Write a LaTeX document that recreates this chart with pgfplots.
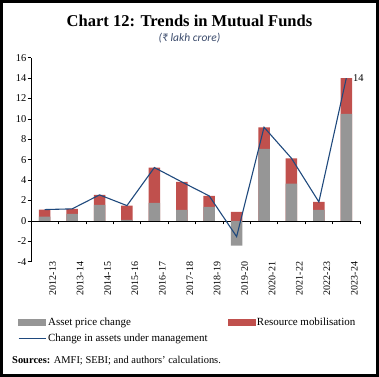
\documentclass[border=0pt]{standalone}
\usepackage{pgfplots}
\pgfplotsset{compat=1.18}
\usepackage{fontspec}
\setmainfont{Liberation Serif}
\newfontfamily\subfont{Carlito}
\definecolor{barGray}{HTML}{969696}
\definecolor{barRed}{HTML}{C0504D}
\definecolor{lineBlue}{HTML}{1F497D}
\definecolor{subBlue}{HTML}{3A4A6B}
\begin{document}
\begin{tikzpicture}[x=1bp,y=1bp]
\useasboundingbox (0,0) rectangle (379,377);
\draw[line width=2.6bp] (1.3,1.3) rectangle (377.7,375.7);
\node[font=\fontsize{16.6}{18}\selectfont\bfseries] at (189.5,356.5) {Chart 12: Trends in Mutual Funds};
\node[font=\subfont\itshape\fontsize{11.5}{13}\selectfont, text=subBlue] at (189.5,338.5) {(₹ lakh crore)};
\node[anchor=west, font=\fontsize{10.5}{12}\selectfont, inner sep=0pt] at (12,16) {\textbf{Sources:} AMFI; SEBI; and authors' calculations.};
% zero line with ticks between categories
\begin{axis}[
  at={(31bp,115.3bp)}, anchor=south west,
  scale only axis, width=329bp, height=204bp,
  xmin=-0.5, xmax=11.5, ymin=-4, ymax=16,
  axis x line=middle, axis y line=none,
  xtick={0.5,1.5,...,11.5}, xticklabels={},
  tick align=outside, major tick length=3.5bp,
  axis line style={black, line width=0.6pt, -},
  tick style={black, line width=0.6pt},
]
\end{axis}
\begin{axis}[
  at={(31bp,115.3bp)}, anchor=south west,
  scale only axis, width=329bp, height=204bp,
  xmin=-0.5, xmax=11.5, ymin=-4, ymax=16,
  clip=false,
  axis y line*=left, axis x line*=bottom,
  x axis line style={draw=none},
  y axis line style={black, line width=0.6pt, -},
  xtick={0,...,11},
  xticklabels={2012-13,2013-14,2014-15,2015-16,2016-17,2017-18,2018-19,2019-20,2020-21,2021-22,2022-23,2023-24},
  xticklabel style={rotate=90, anchor=east, font=\fontsize{10}{11}\selectfont, inner sep=0pt},
  x tick label style={yshift=-8bp},
  xtick style={draw=none},
  ytick={-4,-2,...,16},
  yticklabel style={font=\fontsize{10.5}{11}\selectfont, inner sep=1pt},
  /pgf/number format/assume math mode=true,
  ytick align=outside, ytick style={black, line width=0.6pt},
  major tick length=3.5bp,
  legend columns=2,
  legend cell align=left,
  legend style={at={(-0.04,-0.265)}, anchor=north west, draw=none, fill=none,
    font=\fontsize{11}{13}\selectfont, inner sep=0pt,
    /tikz/every even column/.append style={column sep=18bp},
    row sep=2.5bp},
]
% Resource mobilisation: drawn from 0 to top of stack (gray drawn over it)
\addplot[ybar, bar width=0.42, bar shift=0, fill=barRed, draw=none, forget plot]
  coordinates {(0,1.11) (1,1.18) (2,2.55) (3,1.50) (4,5.23) (5,3.82) (6,2.45) (7,0.88) (8,9.18) (9,6.14) (10,1.86) (11,13.99)};
% Asset price change
\addplot[ybar, bar width=0.42, bar shift=0, fill=barGray, draw=none, forget plot]
  coordinates {(0,0.42) (1,0.69) (2,1.57) (3,0.10) (4,1.76) (5,1.08) (6,1.37) (7,-2.42) (8,7.06) (9,3.66) (10,1.08) (11,10.49)};
% Change in assets under management
\addplot[lineBlue, line width=1.1pt, mark=none, forget plot]
  coordinates {(0,1.11) (1,1.18) (2,2.55) (3,1.50) (4,5.23) (5,3.82) (6,2.45) (7,-1.54) (8,9.18) (9,6.14) (10,1.86) (11,13.99)};
\addplot[draw=none, mark=none, forget plot, nodes near coords, point meta=explicit symbolic,
  nodes near coords style={anchor=west, font=\fontsize{10.5}{11}\selectfont, inner sep=1pt}]
  coordinates {(11.21,13.99) [14]};
\addlegendimage{legend image code/.code={\fill[barGray] (0bp,-3bp) rectangle (27bp,3bp);}}
\addlegendentry{Asset price change}
\addlegendimage{legend image code/.code={\fill[barRed] (0bp,-3bp) rectangle (27bp,3bp);}}
\addlegendentry{Resource mobilisation}
\addlegendimage{legend image code/.code={\draw[lineBlue, line width=1.1pt] (0bp,0bp) -- (27bp,0bp);}}
\addlegendentry{Change in assets under management}
\end{axis}
\end{tikzpicture}
\end{document}
